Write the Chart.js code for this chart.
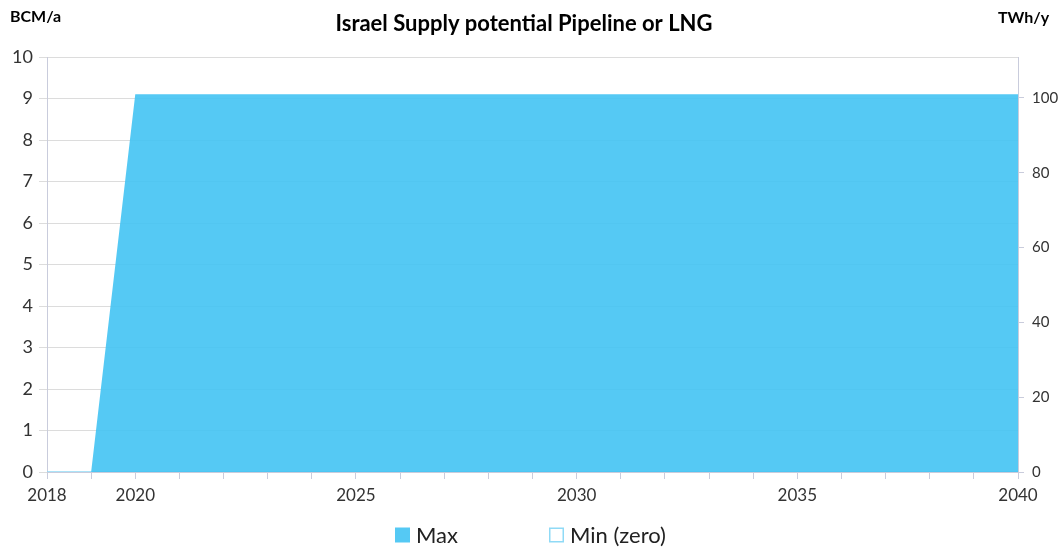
<!DOCTYPE html>
<html>
<head>
<meta charset="utf-8">
<script src="https://cdn.jsdelivr.net/npm/chart.js@4/dist/chart.umd.min.js"></script>
<style>
  body { margin: 0; background: #fff; }
  #wrap { width: 1059px; height: 548px; }
</style>
</head>
<body>
<div id="wrap"><canvas id="supplyChart" width="1059" height="548"></canvas></div>
<script>
// data
const years = [2018, 2019, 2020, 2040];
const maxValues = [0, 0, 9.1, 9.1];
const minValues = [0, 0, 0, 0];
const yearLabels = [2018, 2020, 2025, 2030, 2035, 2040];
const twhTicks = [0, 20, 40, 60, 80, 100];

const FONT = 'Lato, "Open Sans", sans-serif';

// title, unit labels and the bottom legend
const chartText = {
    id: 'chartText',
    afterDraw(chart) {
        const c = chart.ctx;
        c.save();
        c.fillStyle = '#000';
        c.textBaseline = 'middle';
        c.font = 'bold 22px ' + FONT;
        c.textAlign = 'center';
        c.fillText('Israel Supply potential Pipeline or LNG', 524, 24);
        c.font = 'bold 16px ' + FONT;
        c.textAlign = 'left';
        c.fillText('BCM/a', 10, 17);
        c.fillText('TWh/y', 998, 18);

        // legend
        const legendX = [395, 549];
        c.font = '22px ' + FONT;
        chart.data.datasets.forEach((ds, i) => {
            const x = legendX[i];
            const y = 535;
            c.fillStyle = ds.backgroundColor;
            c.fillRect(x, y - 7.5, 15, 15);
            if (ds.borderWidth > 0) {
                c.strokeStyle = ds.borderColor;
                c.lineWidth = 1.5;
                c.strokeRect(x + 0.75, y - 6.75, 13.5, 13.5);
            }
            c.fillStyle = '#222';
            c.fillText(ds.label, x + 21, y + 1);
        });
        c.restore();
    }
};

const toPoints = vals => years.map((y, i) => ({ x: y, y: vals[i] }));

new Chart(document.getElementById('supplyChart'), {
    type: 'line',
    data: {
        datasets: [{
            label: 'Max',
            data: toPoints(maxValues),
            backgroundColor: 'rgba(67, 195, 243, 0.9)',
            borderColor: 'rgba(67, 195, 243, 0.9)',
            borderWidth: 0,
            fill: 'origin',
            pointRadius: 0,
            tension: 0
        }, {
            label: 'Min (zero)',
            data: toPoints(minValues),
            backgroundColor: '#ffffff',
            borderColor: '#8fdaf6',
            borderWidth: 1.5,
            fill: false,
            pointRadius: 0,
            tension: 0
        }]
    },
    options: {
        responsive: false,
        animation: false,
        layout: { padding: { top: 57, left: 0, right: 0, bottom: 0 } },
        plugins: {
            title: { display: false },
            tooltip: { enabled: false },
            legend: { display: false }
        },
        scales: {
            x: {
                type: 'linear',
                min: 2018,
                max: 2040,
                afterFit(scale) { scale.height = 76; },
                ticks: {
                    stepSize: 1,
                    autoSkip: false,
                    maxRotation: 0,
                    color: '#333',
                    font: { family: FONT, size: 17 },
                    padding: 6,
                    callback: v => yearLabels.includes(v) ? String(v) : ''
                },
                grid: { drawOnChartArea: false, color: '#c9ccdc', tickLength: 7 },
                border: { color: '#c9ccdc' }
            },
            y: {
                position: 'left',
                min: 0,
                max: 10,
                afterFit(scale) { scale.width = 47; },
                ticks: {
                    stepSize: 1,
                    color: '#333',
                    font: { family: FONT, size: 18 },
                    padding: 6
                },
                grid: { color: '#dcdcdc', tickLength: 8 },
                border: { color: '#c9ccdc' }
            },
            y2: {
                position: 'right',
                min: 0,
                max: 110.96,
                afterFit(scale) { scale.width = 41; },
                afterBuildTicks(scale) {
                    scale.ticks = twhTicks.map(v => ({ value: v }));
                },
                ticks: {
                    color: '#333',
                    font: { family: FONT, size: 15 },
                    padding: 8
                },
                grid: { drawOnChartArea: false, color: '#c9ccdc', tickLength: 6 },
                border: { color: '#c9ccdc' }
            }
        }
    },
    plugins: [chartText]
});
</script>
</body>
</html>
